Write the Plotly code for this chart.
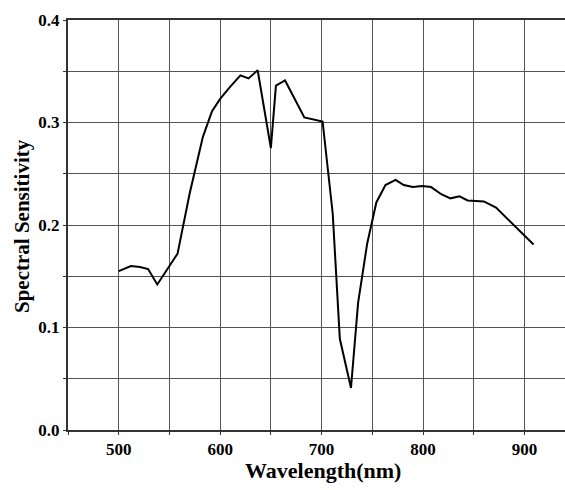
import plotly.graph_objects as go

wavelength = [500, 512, 521, 529, 538, 548, 558, 570, 583, 592, 600, 610, 620, 628, 637,
              650, 655, 664, 674, 683, 701, 711, 718, 729, 736, 745, 754, 763, 773, 781,
              790, 799, 808, 818, 827, 836, 844, 860, 872, 882, 890, 900, 909]
sensitivity = [0.155, 0.160, 0.159, 0.157, 0.142, 0.157, 0.172, 0.231, 0.286, 0.311, 0.323,
               0.335, 0.346, 0.343, 0.351, 0.275, 0.336, 0.341, 0.322, 0.305, 0.301, 0.211,
               0.089, 0.041, 0.124, 0.182, 0.222, 0.239, 0.244, 0.239, 0.237, 0.238, 0.237,
               0.230, 0.226, 0.228, 0.224, 0.223, 0.217, 0.207, 0.200, 0.190, 0.181]

x_ticks = [500, 600, 700, 800, 900]
y_ticks = [0.0, 0.1, 0.2, 0.3, 0.4]
y_tick_labels = ["0.0", "0.1", "0.2", "0.3", "0.4"]
x_title = "Wavelength(nm)"
y_title = "Spectral Sensitivity"

font_family = "Liberation Serif, Times New Roman, serif"
W, H = 565, 490
L, R, T, B = 68, 0, 20, 60

fig = go.Figure()
fig.add_trace(go.Scatter(x=wavelength, y=sensitivity, mode="lines",
                         line=dict(color="black", width=2), showlegend=False))

fig.update_layout(
    width=W, height=H,
    margin=dict(l=L, r=R, t=T, b=B, autoexpand=False),
    plot_bgcolor="white", paper_bgcolor="white",
    font=dict(family=font_family, color="black"),
)
fig.update_xaxes(
    range=[450, 940], automargin=False,
    tickmode="array", tickvals=x_ticks, ticktext=[str(v) for v in x_ticks],
    showgrid=True, gridcolor="#555555", gridwidth=1,
    minor=dict(dtick=50, tick0=450, showgrid=True, gridcolor="#555555", gridwidth=1,
               ticks="outside", ticklen=3, tickcolor="#333333"),
    ticks="outside", ticklen=3, tickcolor="#333333",
    showline=True, linecolor="#333333", linewidth=2, mirror=True,
    tickfont=dict(family=font_family, size=17, color="black", weight="bold"),
    zeroline=False,
)
fig.update_yaxes(
    range=[0, 0.4], automargin=False,
    tickmode="array", tickvals=y_ticks, ticktext=y_tick_labels,
    showgrid=True, gridcolor="#555555", gridwidth=1,
    minor=dict(dtick=0.05, tick0=0, showgrid=True, gridcolor="#555555", gridwidth=1,
               ticks="outside", ticklen=3, tickcolor="#333333"),
    ticks="outside", ticklen=3, tickcolor="#333333",
    showline=True, linecolor="#333333", linewidth=2, mirror=False,
    tickfont=dict(family=font_family, size=17, color="black", weight="bold"),
    zeroline=False,
)

pw = W - L - R
ph = H - T - B
fig.add_annotation(text="<b>" + x_title + "</b>", xref="paper", yref="paper",
                   x=(323 - L) / pw, y=-(470 - (T + ph)) / ph,
                   xanchor="center", yanchor="middle", showarrow=False,
                   font=dict(family=font_family, size=22, color="black"))
fig.add_annotation(text="<b>" + y_title + "</b>", xref="paper", yref="paper",
                   x=-(L - 22) / pw, y=(T + ph - 226) / ph, textangle=-90,
                   xanchor="center", yanchor="middle", showarrow=False,
                   font=dict(family=font_family, size=21, color="black"))

fig.write_html("out.html", config={"displayModeBar": False},
               post_script="document.body.style.margin='0';document.body.style.overflow='hidden';")
